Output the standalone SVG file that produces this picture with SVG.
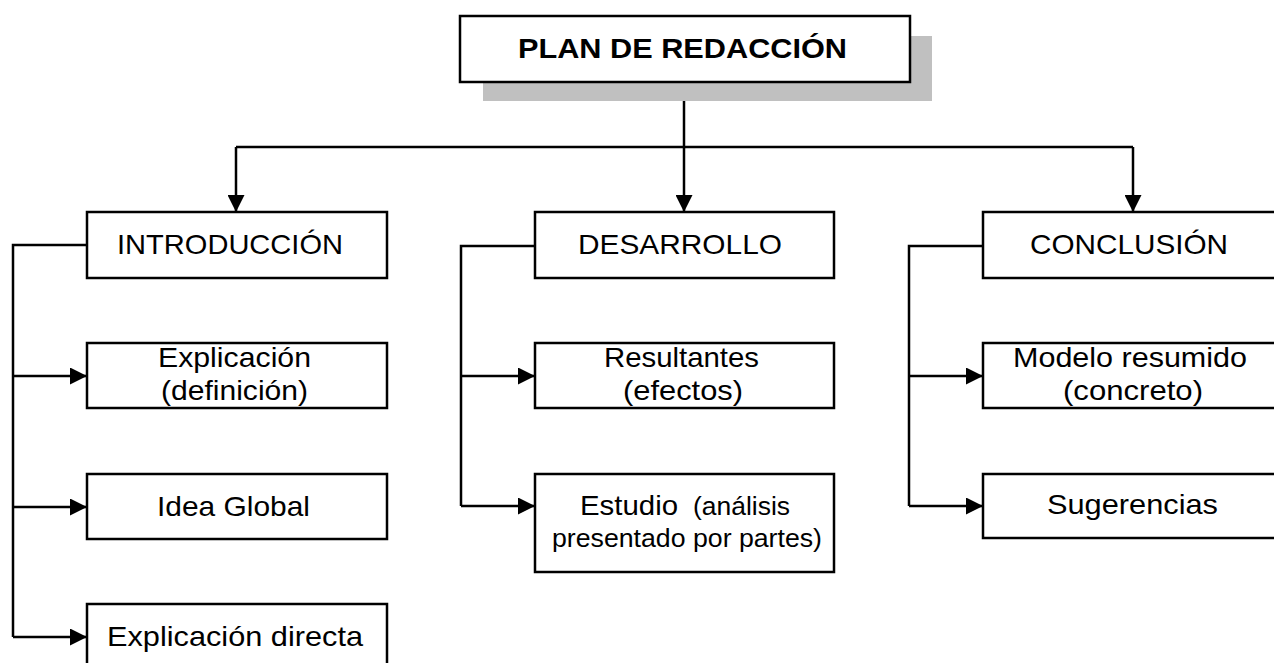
<svg xmlns="http://www.w3.org/2000/svg" width="1274" height="663" viewBox="0 0 1274 663">
<style>
.box{fill:#fff;stroke:#000;stroke-width:2.5}
.shadow{fill:#c0c0c0}
.t{font-family:"Liberation Sans",Arial,sans-serif;font-size:28.5px;fill:#000;text-anchor:middle}
.s{font-size:25.5px}
.title{font-weight:bold;font-size:28px}
.c{fill:none;stroke:#000;stroke-width:2.5}
</style>
<defs>
<marker id="ah" markerUnits="userSpaceOnUse" markerWidth="17" markerHeight="17" refX="17" refY="8.5" orient="auto">
<path d="M0,0 L17,8.5 L0,17 Z" fill="#000"/>
</marker>
</defs>
<rect width="1274" height="663" fill="#fff"/>
<g id="connectors">
<line class="c" x1="684" y1="101" x2="684" y2="147"/>
<line class="c" x1="236" y1="147" x2="1133" y2="147"/>
<line class="c" x1="236" y1="147" x2="236" y2="212" marker-end="url(#ah)"/>
<line class="c" x1="684" y1="147" x2="684" y2="212" marker-end="url(#ah)"/>
<line class="c" x1="1133" y1="147" x2="1133" y2="212" marker-end="url(#ah)"/>
<path class="c" d="M87,245 H13 V637"/>
<line class="c" x1="13" y1="376" x2="87" y2="376" marker-end="url(#ah)"/>
<line class="c" x1="13" y1="507" x2="87" y2="507" marker-end="url(#ah)"/>
<line class="c" x1="13" y1="637" x2="87" y2="637" marker-end="url(#ah)"/>
<path class="c" d="M535,246 H461 V506"/>
<line class="c" x1="461" y1="376" x2="535" y2="376" marker-end="url(#ah)"/>
<line class="c" x1="461" y1="506" x2="535" y2="506" marker-end="url(#ah)"/>
<path class="c" d="M983,246 H909 V506"/>
<line class="c" x1="909" y1="376" x2="983" y2="376" marker-end="url(#ah)"/>
<line class="c" x1="909" y1="506" x2="983" y2="506" marker-end="url(#ah)"/>
</g>
<g id="plan">
<rect class="shadow" x="483" y="36" width="449" height="65"/>
<rect class="box" x="460" y="16" width="450" height="66"/>
<text class="t title" x="682.5" y="58" textLength="329" lengthAdjust="spacingAndGlyphs">PLAN DE REDACCIÓN</text>
</g>
<g id="introduccion">
<rect class="box" x="87" y="212" width="300" height="66"/>
<text class="t" x="230" y="254" textLength="226" lengthAdjust="spacingAndGlyphs">INTRODUCCIÓN</text>
</g>
<g id="desarrollo">
<rect class="box" x="535" y="212" width="299" height="66"/>
<text class="t" x="680" y="254" textLength="204" lengthAdjust="spacingAndGlyphs">DESARROLLO</text>
</g>
<g id="conclusion">
<rect class="box" x="983" y="212" width="300" height="66"/>
<text class="t" x="1129" y="254" textLength="198" lengthAdjust="spacingAndGlyphs">CONCLUSIÓN</text>
</g>
<g id="explicacion">
<rect class="box" x="87" y="343" width="300" height="65"/>
<text class="t" x="234.5" y="367" textLength="153" lengthAdjust="spacingAndGlyphs">Explicación</text>
<text class="t" x="234.5" y="400" textLength="147" lengthAdjust="spacingAndGlyphs">(definición)</text>
</g>
<g id="idea-global">
<rect class="box" x="87" y="474" width="300" height="65"/>
<text class="t" x="233.5" y="516" textLength="153" lengthAdjust="spacingAndGlyphs">Idea Global</text>
</g>
<g id="explicacion-directa">
<rect class="box" x="87" y="604" width="300" height="66"/>
<text class="t" x="235" y="646" textLength="256" lengthAdjust="spacingAndGlyphs">Explicación directa</text>
</g>
<g id="resultantes">
<rect class="box" x="535" y="343" width="299" height="65"/>
<text class="t" x="681.5" y="367" textLength="155" lengthAdjust="spacingAndGlyphs">Resultantes</text>
<text class="t" x="683" y="400" textLength="120" lengthAdjust="spacingAndGlyphs">(efectos)</text>
</g>
<g id="estudio">
<rect class="box" x="535" y="474" width="299" height="98"/>
<text class="t" x="629" y="515" textLength="98" lengthAdjust="spacingAndGlyphs">Estudio</text>
<text class="t s" x="741.5" y="515" textLength="97" lengthAdjust="spacingAndGlyphs">(análisis</text>
<text class="t s" x="687" y="547" textLength="270" lengthAdjust="spacingAndGlyphs">presentado por partes)</text>
</g>
<g id="modelo">
<rect class="box" x="983" y="343" width="300" height="65"/>
<text class="t" x="1130" y="367" textLength="234" lengthAdjust="spacingAndGlyphs">Modelo resumido</text>
<text class="t" x="1133" y="400" textLength="140" lengthAdjust="spacingAndGlyphs">(concreto)</text>
</g>
<g id="sugerencias">
<rect class="box" x="983" y="474" width="300" height="64"/>
<text class="t" x="1132.5" y="514" textLength="171" lengthAdjust="spacingAndGlyphs">Sugerencias</text>
</g>
</svg>
